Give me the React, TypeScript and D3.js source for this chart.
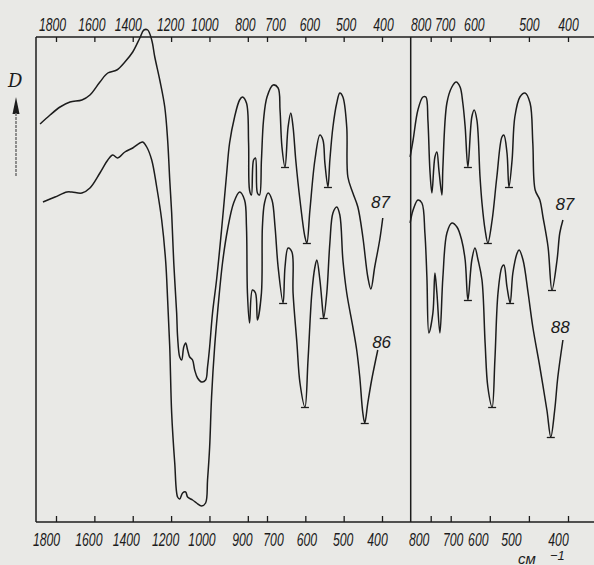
import React, { useEffect, useRef } from 'react';
import * as d3 from 'd3';

// axis ticks (cm-1) and the labels as they are printed on the figure
const leftTicks = [1800, 1600, 1400, 1200, 1000, 800, 700, 600, 500, 400];
const leftTopLabels = ['1800', '1600', '1400', '1200', '1000', '800', '700', '600', '500', '400'];
const leftBottomLabels = ['1800', '1600', '1400', '1200', '1000', '900', '700', '600', '500', '400'];
const rightTicks = [800, 700, 600, 500, 400];
const rightLabels = ['800', '700', '600', '500', '400'];

// spectra: [wavenumber, D]
const left87 = [
  [1883, 79.6], [1831, 81.4], [1779, 83], [1727, 84], [1665, 84.4], [1623, 85.4], [1571, 88], [1530, 89.8],
  [1483, 90.4], [1441, 92], [1400, 94], [1363, 96.8], [1342, 98.4], [1322, 98.4], [1301, 96.4], [1285, 93],
  [1259, 88.4], [1233, 83], [1218, 76.4], [1207, 68.4], [1197, 61.8], [1186, 51.8], [1171, 41.8], [1166, 37],
  [1155, 33], [1145, 32.4], [1134, 35], [1124, 35.8], [1114, 34.4], [1103, 33], [1088, 32.4], [1077, 30.4],
  [1062, 28.8], [1041, 28], [1020, 28.4], [1010, 31], [999, 35], [984, 41.8], [963, 48.4], [937, 58.4],
  [911, 69.4], [895, 75.8], [869, 81], [843, 84.4], [828, 85], [807, 83.8], [796, 75.8], [791, 66.4],
  [781, 65.4], [770, 72.4], [760, 72.8], [750, 65.8], [739, 65.4], [729, 72.4], [718, 80.4], [700, 85],
  [684, 87.4], [671, 86.8], [666, 82.4], [661, 75], [653, 71], [645, 79], [638, 81.8], [632, 79],
  [625, 72.4], [614, 64.4], [601, 57], [596, 55.8], [588, 62.4], [575, 72.4], [562, 77.4], [554, 76.4],
  [549, 71.8], [541, 67], [536, 72.4], [528, 79], [518, 83.8], [510, 85.8], [502, 85], [492, 79],
  [489, 69], [476, 65.8], [463, 63], [450, 57], [437, 49], [429, 46.6], [419, 51], [406, 56.4], [398, 60.8],
];
const left86 = [
  [1868, 64], [1805, 65], [1743, 66], [1717, 66], [1665, 65.8], [1623, 66.8], [1571, 69.8], [1530, 72.4],
  [1504, 73.4], [1478, 72.8], [1441, 74], [1400, 74.8], [1363, 75.8], [1348, 76], [1327, 75], [1301, 72.4],
  [1275, 67], [1249, 60.4], [1228, 52], [1218, 44.4], [1207, 35], [1197, 21.8], [1181, 11.8], [1166, 5],
  [1155, 4.6], [1140, 5.8], [1124, 6], [1114, 5], [1088, 4.4], [1067, 3.8], [1041, 3.2], [1020, 3.8],
  [1010, 8.4], [999, 15], [989, 25], [973, 35], [958, 41.8], [932, 51.8], [906, 58.4], [874, 63.8],
  [843, 66], [817, 64.4], [807, 59], [802, 45.8], [791, 39.8], [776, 46.4], [760, 45.8], [750, 40.4],
  [729, 45.8], [724, 59], [713, 63.8], [697, 65.8], [687, 64.4], [679, 59], [671, 51], [658, 43.8],
  [653, 51], [645, 54.8], [635, 54], [632, 45.8], [622, 35.8], [614, 27.8], [601, 23], [593, 32.4],
  [583, 45.8], [575, 51], [570, 52.4], [562, 48.4], [554, 41.8], [552, 40.8], [544, 45.8], [536, 55.8],
  [528, 61.8], [518, 63], [510, 61.4], [502, 52.4], [492, 45.8], [476, 39], [466, 34.4], [458, 29],
  [450, 21.8], [445, 19.8], [437, 23.8], [427, 28.4], [411, 34.4],
];
const right87 = [
  [903, 73], [888, 76.4], [864, 82.4], [839, 85], [824, 85], [814, 80.4], [804, 70.4], [794, 65.8],
  [779, 73], [769, 74], [759, 70.4], [744, 65.4], [739, 71], [719, 83.8], [697, 87], [686, 88],
  [676, 87], [669, 83.8], [663, 79], [656, 71], [646, 81], [640, 82.4], [633, 80.4], [625, 69],
  [620, 63.8], [612, 58.4], [605, 55.8], [594, 60.4], [582, 69], [569, 77], [564, 77.4], [556, 73.8],
  [551, 67], [543, 72.4], [536, 81], [523, 85], [510, 85.8], [497, 83.8], [490, 75.8], [484, 66.4],
  [472, 64.4], [464, 61], [451, 55], [441, 46.4], [428, 52.4], [421, 57.8], [413, 60.4],
];
const right88 = [
  [903, 59.8], [888, 62.4], [864, 64.4], [844, 63.8], [829, 57.8], [819, 49], [809, 37.8], [789, 41.8],
  [779, 49.8], [769, 45.8], [754, 37.8], [739, 49], [719, 57.8], [697, 59.8], [684, 59], [672, 56.4],
  [663, 52.4], [656, 44.4], [646, 52.4], [638, 54.8], [630, 52.4], [620, 48.4], [612, 35.8], [605, 27],
  [594, 23], [587, 32.4], [579, 45.8], [569, 51], [564, 51.4], [556, 47], [548, 43.8], [541, 49.8],
  [530, 53.8], [525, 54.4], [515, 52.4], [502, 45.8], [490, 39], [472, 31], [454, 22.4], [444, 17],
  [434, 22.4], [426, 29], [413, 36.4],
];

// band positions marked with a short bar under the minimum
const left87Bands = [[653, 71], [596, 55.8], [541, 67]];
const left86Bands = [[658, 43.8], [601, 23], [552, 40.8], [445, 19.8]];
const right87Bands = [[656, 71], [605, 55.8], [551, 67], [441, 46.4]];
const right88Bands = [[656, 44.4], [594, 23], [548, 43.8], [444, 17]];

// sample numbers written next to the curves
const curveNames = ['87', '86', '87', '88'];
const namePos = [[404, 62.8], [401, 34.8], [408, 62.4], [420, 37.8]];

export default function App() {
  const svgRef = useRef(null);

  useEffect(() => {
    const W = 594, H = 565;
    const top = 37, bottom = 522, frameLeft = 36, sep = 410.7;
    const ink = '#1c1c1c';
    const font = "'Liberation Sans', 'DejaVu Sans', sans-serif";

    // the labels were lettered by hand, so they sit a little off their ticks
    const nudgeLeftTop = [-4, -3, -5, -1, -5, -3, 8, 4, 2, 1];
    const nudgeLeftBottom = [-10, -6, -7, -6, -8, -6, 6, 1, -1, -5];
    const nudgeRightTop = [-10, -6, -16, 0, 0];
    const nudgeRightBottom = [-12, 2, -12, -18, -10];

    const svg = d3.select(svgRef.current);
    svg.selectAll('*').remove();

    svg.append('rect').attr('width', W).attr('height', H).attr('fill', '#e9e9e6');

    // the recorder scale is compressed above 700 cm-1
    const xLeft = d3.scaleLinear().domain([1800, 700, 400]).range([56, 267, 382]);
    const xRight = d3.scaleLinear().domain([900, 700, 400]).range([sep, 450.7, 568]);
    const y = d3.scaleLinear().domain([0, 97]).range([bottom, top]);

    // frame
    const frame = svg.append('g').attr('stroke', ink).attr('stroke-width', 1.5).attr('fill', 'none');
    frame.append('line').attr('x1', frameLeft).attr('x2', W).attr('y1', top).attr('y2', top);
    frame.append('line').attr('x1', frameLeft).attr('x2', W).attr('y1', bottom).attr('y2', bottom);
    frame.append('line').attr('x1', frameLeft).attr('x2', frameLeft).attr('y1', top).attr('y2', bottom);
    frame.append('line').attr('x1', sep).attr('x2', sep).attr('y1', top).attr('y2', bottom);

    const drawAxis = (gen, y0, nudge, baseline) => {
      const g = svg.append('g')
        .attr('transform', `translate(0,${y0})`)
        .call(gen);
      g.select('.domain').remove();
      g.selectAll('.tick line').attr('stroke', ink).attr('stroke-width', 1.3);
      g.selectAll('.tick text')
        .attr('fill', ink)
        .attr('font-family', font)
        .attr('font-style', 'italic')
        .attr('font-size', 19)
        .attr('dx', (d, i) => nudge[i])
        .attr('dy', 0)
        .attr('y', baseline)
        .attr('textLength', function () { return (this.textContent || '').length * 6.8; })
        .attr('lengthAdjust', 'spacingAndGlyphs');
    };

    drawAxis(d3.axisTop(xLeft).tickValues(leftTicks).tickSize(-5)
      .tickFormat((d, i) => leftTopLabels[i]), top, nudgeLeftTop, -6);
    drawAxis(d3.axisTop(xRight).tickValues(rightTicks).tickSize(-5)
      .tickFormat((d, i) => rightLabels[i]), top, nudgeRightTop, -6);
    drawAxis(d3.axisBottom(xLeft).tickValues(leftTicks).tickSize(-6)
      .tickFormat((d, i) => leftBottomLabels[i]), bottom, nudgeLeftBottom, 24);
    drawAxis(d3.axisBottom(xRight).tickValues(rightTicks).tickSize(-6)
      .tickFormat((d, i) => rightLabels[i]), bottom, nudgeRightBottom, 24);

    // spectra
    const curves = [
      { data: left87, bands: left87Bands, x: xLeft },
      { data: left86, bands: left86Bands, x: xLeft },
      { data: right87, bands: right87Bands, x: xRight },
      { data: right88, bands: right88Bands, x: xRight },
    ];

    curves.forEach((c, i) => {
      const line = d3.line()
        .x(d => c.x(d[0]))
        .y(d => y(d[1]))
        .curve(d3.curveCatmullRom.alpha(0.5));

      svg.append('path')
        .datum(c.data)
        .attr('d', line)
        .attr('fill', 'none')
        .attr('stroke', ink)
        .attr('stroke-width', 1.5)
        .attr('stroke-linejoin', 'round');

      svg.selectAll(null)
        .data(c.bands)
        .enter()
        .append('line')
        .attr('x1', d => c.x(d[0]) - 4)
        .attr('x2', d => c.x(d[0]) + 4)
        .attr('y1', d => y(d[1]) + 0.5)
        .attr('y2', d => y(d[1]) + 0.5)
        .attr('stroke', ink)
        .attr('stroke-width', 1.3);

      svg.append('text')
        .attr('x', c.x(namePos[i][0]))
        .attr('y', y(namePos[i][1]))
        .attr('text-anchor', 'middle')
        .attr('font-family', font)
        .attr('font-style', 'italic')
        .attr('font-size', 17)
        .attr('fill', ink)
        .text(curveNames[i]);
    });

    // D with the upward arrow
    svg.append('text')
      .attr('x', 8).attr('y', 87)
      .attr('font-family', "'DejaVu Serif', serif")
      .attr('font-style', 'italic')
      .attr('font-size', 18)
      .attr('fill', ink)
      .text('D');
    svg.append('path')
      .attr('d', 'M16,97 L12.5,114 L19.5,114 Z')
      .attr('fill', ink);
    svg.append('line')
      .attr('x1', 16).attr('x2', 16).attr('y1', 113).attr('y2', 177)
      .attr('stroke', '#777').attr('stroke-width', 1.6).attr('stroke-dasharray', '3,1');

    // unit, partly cut by the lower edge as in the scan
    svg.append('text')
      .attr('x', 518).attr('y', 564)
      .attr('font-family', font).attr('font-style', 'italic').attr('font-size', 15)
      .attr('fill', ink)
      .text('см');
    svg.append('text')
      .attr('x', 550).attr('y', 560)
      .attr('font-family', font).attr('font-style', 'italic').attr('font-size', 13)
      .attr('fill', ink)
      .text('−1');
  }, []);

  return (
    <svg
      ref={svgRef}
      width={594}
      height={565}
      style={{ position: 'absolute', left: 0, top: 0, display: 'block' }}
    />
  );
}
